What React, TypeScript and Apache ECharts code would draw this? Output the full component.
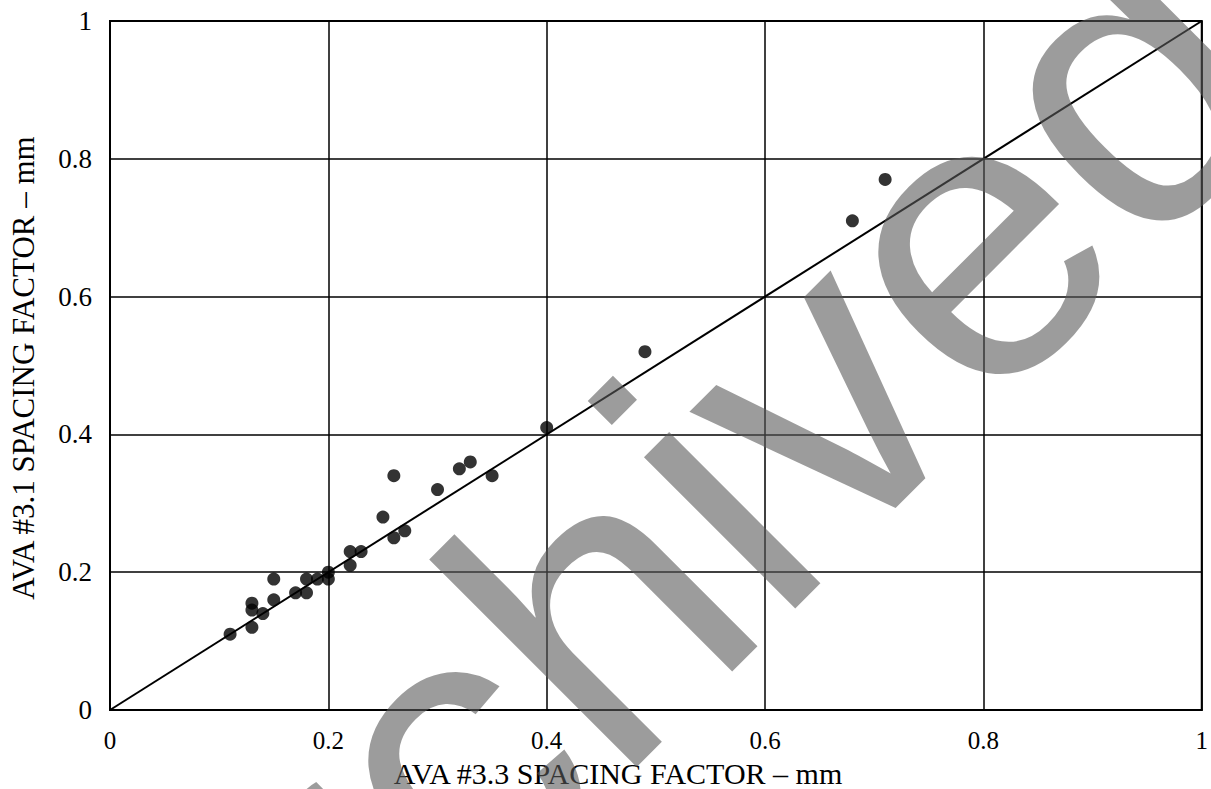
import React, { useEffect, useRef } from "react";
import * as echarts from "echarts";

// AVA #3.3 spacing factor (x) vs AVA #3.1 spacing factor (y), mm
const xValues = [0.11, 0.13, 0.13, 0.14, 0.13, 0.15, 0.15, 0.17, 0.18, 0.18, 0.19, 0.2, 0.2, 0.22, 0.23, 0.22, 0.26, 0.27, 0.25, 0.26, 0.3, 0.32, 0.33, 0.35, 0.4, 0.49, 0.68, 0.71];
const yValues = [0.11, 0.155, 0.145, 0.14, 0.12, 0.19, 0.16, 0.17, 0.17, 0.19, 0.19, 0.2, 0.19, 0.23, 0.23, 0.21, 0.25, 0.26, 0.28, 0.34, 0.32, 0.35, 0.36, 0.34, 0.41, 0.52, 0.71, 0.77];
const equalityX = [0, 1];
const equalityY = [0, 1];
const xTitle = "AVA #3.3 SPACING FACTOR \u2013 mm";
const yTitle = "AVA #3.1 SPACING FACTOR \u2013 mm";
const watermark = "Archived";

const serif = '"Liberation Serif", "Times New Roman", serif';

export default function App() {
  const ref = useRef<HTMLDivElement>(null);
  useEffect(() => {
    const chart = echarts.init(ref.current!, null, { renderer: "svg" });
    chart.setOption({
      animation: false,
      backgroundColor: "#ffffff",
      grid: {
        left: 110,
        top: 21,
        right: 6,
        bottom: 79,
        show: true,
        borderColor: "#000",
        borderWidth: 2,
        backgroundColor: "transparent",
      },
      xAxis: {
        type: "value",
        min: 0,
        max: 1,
        interval: 0.2,
        axisLine: { show: true, lineStyle: { color: "#000", width: 2 } },
        axisTick: { show: false },
        splitLine: { show: true, lineStyle: { color: "#000", width: 1.5 } },
        axisLabel: { color: "#000", fontFamily: serif, fontSize: 25, margin: 18 },
      },
      yAxis: {
        type: "value",
        min: 0,
        max: 1,
        interval: 0.2,
        axisLine: { show: true, lineStyle: { color: "#000", width: 2 } },
        axisTick: { show: false },
        splitLine: { show: true, lineStyle: { color: "#000", width: 1.5 } },
        axisLabel: { color: "#000", fontFamily: serif, fontSize: 27, margin: 18 },
      },
      series: [
        {
          type: "line",
          data: equalityX.map((x, i) => [x, equalityY[i]]),
          showSymbol: false,
          symbol: "none",
          lineStyle: { color: "#000", width: 2 },
          z: 3,
        },
        {
          type: "scatter",
          data: xValues.map((x, i) => [x, yValues[i]]),
          symbol: "circle",
          symbolSize: 13,
          itemStyle: { color: "#000" },
          z: 4,
        },
      ],
      graphic: [
        {
          type: "text",
          x: 618,
          y: 773,
          style: {
            text: xTitle,
            fontFamily: serif,
            fontSize: 30,
            fill: "#000",
            align: "center",
            verticalAlign: "middle",
          },
        },
        {
          type: "text",
          x: 23,
          y: 368,
          rotation: Math.PI / 2,
          style: {
            text: yTitle,
            fontFamily: serif,
            fontSize: 31,
            fill: "#000",
            align: "center",
            verticalAlign: "middle",
          },
        },
        {
          type: "text",
          x: 645,
          y: 560,
          rotation: Math.PI / 4,
          z: 100,
          style: {
            text: watermark,
            fontFamily: '"Liberation Sans", Arial, sans-serif',
            fontSize: 405,
            fill: "#5a5a5a",
            opacity: 0.6,
            align: "center",
            verticalAlign: "middle",
          },
        },
      ],
    });
    return () => chart.dispose();
  }, []);
  return (
    <div
      ref={ref}
      style={{ position: "fixed", left: 0, top: 0, width: 1211, height: 789, background: "#fff" }}
    />
  );
}
